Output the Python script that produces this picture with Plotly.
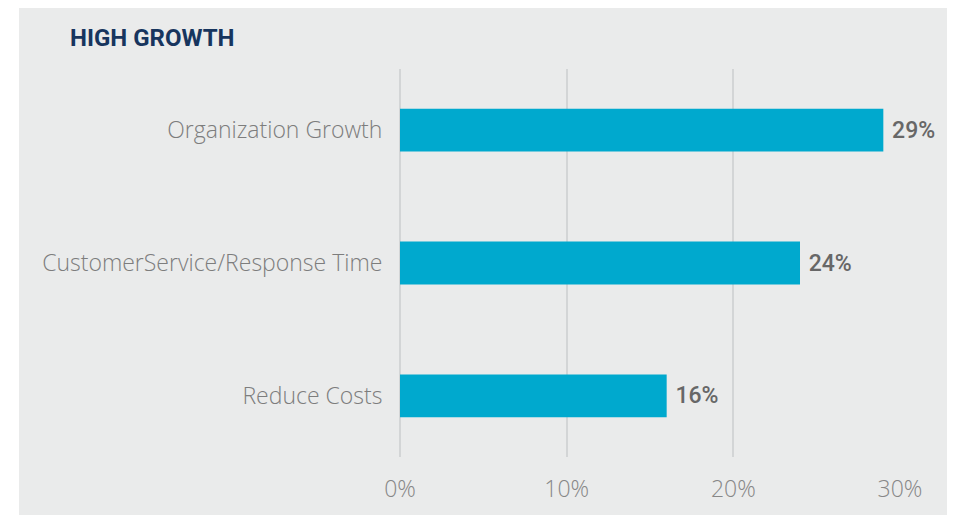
import plotly.graph_objects as go

categories = ["Organization Growth", "CustomerService/Response Time", "Reduce Costs"]
values = [29, 24, 16]
tick_vals = [0, 10, 20, 30]
tick_text = ["0%", "10%", "20%", "30%"]

bar_col = "#00a9ce"
grid_col = "#d3d5d6"
panel_col = "#eaebeb"

# page adds an 8px body margin, so the figure is drawn 8px smaller
W, H = 947, 507
L, T, R, B = 392, 61, 55, 58
pw, ph = W - L - R, H - T - B

fig = go.Figure()
fig.add_trace(go.Bar(
    x=values, y=[0, 1, 2], orientation="h",
    width=0.323,
    marker=dict(color=bar_col, line=dict(width=0)),
    text=[f" {v}%" for v in values],
    textposition="outside",
    cliponaxis=False,
    textfont=dict(family="Roboto", size=23, color="#676767", weight=500),
))

fig.update_layout(
    width=W, height=H,
    margin=dict(l=L, r=R, t=T, b=B),
    paper_bgcolor="white",
    plot_bgcolor=panel_col,
    showlegend=False,
    font=dict(family="Roboto", color="#7d7d7d"),
    shapes=[
        dict(type="rect", xref="paper", yref="paper",
             x0=(11 - L) / pw, x1=(942 - L) / pw, y0=-B / ph, y1=(H - B) / ph,
             fillcolor=panel_col, line=dict(width=0), layer="below"),
    ],
    annotations=[
        dict(text="<b>HIGH GROWTH</b>", xref="paper", yref="paper",
             x=(60 - L) / pw, y=(H - B - 30) / ph, xanchor="left", yanchor="middle",
             showarrow=False,
             font=dict(family="Roboto", size=24, color="#17355e")),
    ],
)

fig.update_xaxes(
    range=[0, 30],
    tickvals=tick_vals, ticktext=tick_text,
    showgrid=True, gridcolor=grid_col, gridwidth=1.5,
    zeroline=True, zerolinecolor=grid_col, zerolinewidth=1.5,
    showline=False,
    ticks="outside", ticklen=11, tickcolor="rgba(0,0,0,0)",
    tickfont=dict(family="Open Sans", size=23, color="#878787", weight=300),
    fixedrange=True,
)
fig.update_yaxes(
    range=[2.46, -0.46],
    tickvals=[0, 1, 2], ticktext=categories,
    showgrid=False, zeroline=False, showline=False,
    ticks="outside", ticklen=12, tickcolor="rgba(0,0,0,0)",
    tickfont=dict(family="Open Sans", size=23, color="#7d7d7d", weight=300),
    fixedrange=True,
)

fig.write_html("out.html")
